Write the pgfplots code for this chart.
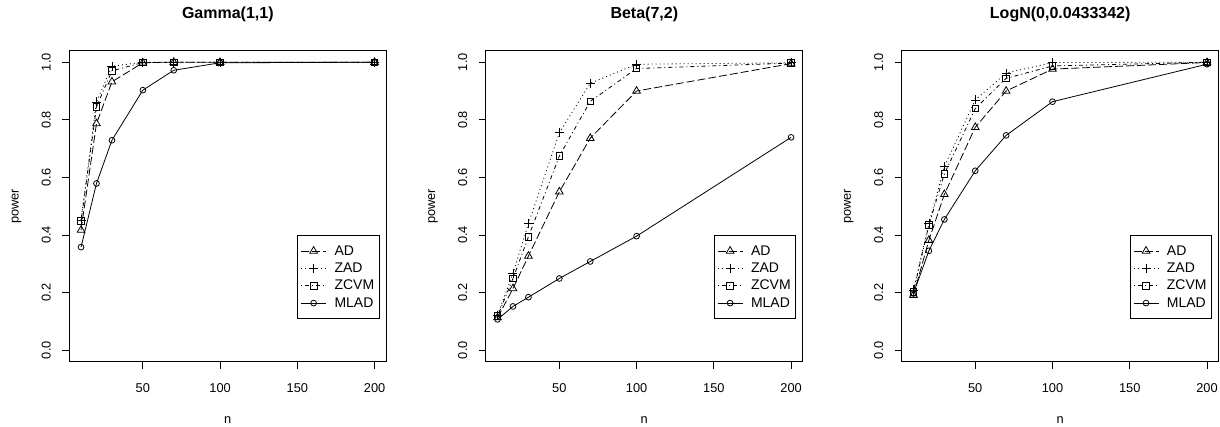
\documentclass[border=0pt]{standalone}
\usepackage{fontspec}
\setmainfont{Liberation Sans}
\usepackage{pgfplots}
\usepackage{pgfplotstable}
\pgfplotsset{compat=1.18}

% power by sample size n, one table for each panel
\pgfplotstableread{
n   AD    ZAD   ZCVM  MLAD
10  0.417 0.452 0.448 0.358
20  0.787 0.862 0.845 0.579
30  0.932 0.986 0.970 0.729
50  0.998 1.000 0.999 0.903
70  1.000 1.000 1.000 0.972
100 1.000 1.000 1.000 0.998
200 1.000 1.000 1.000 1.000
}\gammatab
\pgfplotstableread{
n   AD    ZAD   ZCVM  MLAD
10  0.113 0.122 0.118 0.107
20  0.214 0.267 0.249 0.152
30  0.327 0.440 0.394 0.184
50  0.550 0.755 0.674 0.249
70  0.736 0.927 0.864 0.308
100 0.900 0.993 0.978 0.396
200 0.995 0.998 0.997 0.739
}\betatab
\pgfplotstableread{
n   AD    ZAD   ZCVM  MLAD
10  0.191 0.209 0.203 0.197
20  0.382 0.440 0.435 0.345
30  0.541 0.637 0.612 0.454
50  0.774 0.869 0.839 0.623
70  0.900 0.962 0.944 0.746
100 0.976 0.999 0.987 0.863
200 0.999 1.000 1.000 0.993
}\lognormtab

\pgfplotsset{
  rplot/.style={
    scale only axis, width=317pt, height=311pt,
    xmin=2.4, xmax=207.6, ymin=-0.04, ymax=1.04,
    xtick={50,100,150,200}, ytick={0,0.2,0.4,0.6,0.8,1},
    xtick pos=bottom, ytick pos=left,
    tick align=outside, major tick length=7pt,
    axis line style={line width=0.8pt},
    every tick/.style={black, line width=0.8pt},
    /pgf/number format/assume math mode=true,
    yticklabel style={/pgf/number format/fixed, /pgf/number format/fixed zerofill,
      /pgf/number format/precision=1, rotate=90, anchor=base,
      font=\fontsize{12.8}{15}\selectfont},
    xticklabel style={anchor=base, font=\fontsize{12.8}{15}\selectfont},
    xticklabel shift=23.5pt, yticklabel shift=11.6pt,
    title style={at={(0.5,1)}, anchor=base, yshift=26pt, font=\bfseries\fontsize{16}{19}\selectfont},
    xlabel={n}, ylabel={power},
    every axis x label/.style={at={(axis description cs:0.5,-0.198)}, anchor=base,
      font=\fontsize{12.8}{15}\selectfont},
    every axis y label/.style={at={(axis description cs:-0.16,0.5)}, rotate=90, anchor=base,
      font=\fontsize{12.8}{15}\selectfont},
    legend style={at={(axis cs:150,0.4)}, anchor=north west, draw=black, line width=0.8pt,
      font=\fontsize{14}{16}\selectfont, row sep=2.2pt, column sep=6pt,
      inner xsep=3pt, inner ysep=8pt,
      nodes={inner xsep=2pt, inner ysep=2pt}},
    legend cell align=left,
    legend image code/.code={
      \draw[mark repeat=2, mark phase=2] plot coordinates {(0pt,0pt) (12.5pt,0pt) (25pt,0pt)};},
  },
  ad/.style={black, line width=0.8pt, dash pattern=on 8pt off 3pt,
    mark=triangle, mark size=4.4pt, mark options={solid, fill=white}},
  zad/.style={black, line width=0.8pt, dash pattern=on 1pt off 3pt,
    mark=+, mark size=4.5pt, mark options={solid}},
  zcvm/.style={black, line width=0.8pt, dash pattern=on 1pt off 3pt on 4pt off 3pt,
    mark=square, mark size=3.3pt, mark options={solid, fill=white}},
  mlad/.style={black, line width=0.8pt, solid,
    mark=o, mark size=2.9pt, mark options={solid, fill=white}},
}

\begin{document}
\begin{tikzpicture}
\useasboundingbox (0,0) rectangle (1220pt,427pt);

\begin{axis}[rplot, at={(69.3pt,65.3pt)}, title={Gamma(1,1)}]
  \addplot[ad]   table[x=n, y=AD]   {\gammatab};
  \addplot[zad]  table[x=n, y=ZAD]  {\gammatab};
  \addplot[zcvm] table[x=n, y=ZCVM] {\gammatab};
  \addplot[mlad] table[x=n, y=MLAD] {\gammatab};
  \legend{AD,ZAD,ZCVM,MLAD}
\end{axis}

\begin{axis}[rplot, at={(485.8pt,65.3pt)}, title={Beta(7,2)}]
  \addplot[ad]   table[x=n, y=AD]   {\betatab};
  \addplot[zad]  table[x=n, y=ZAD]  {\betatab};
  \addplot[zcvm] table[x=n, y=ZCVM] {\betatab};
  \addplot[mlad] table[x=n, y=MLAD] {\betatab};
  \legend{AD,ZAD,ZCVM,MLAD}
\end{axis}

\begin{axis}[rplot, at={(901.7pt,65.3pt)}, title={LogN(0,0.0433342)}]
  \addplot[ad]   table[x=n, y=AD]   {\lognormtab};
  \addplot[zad]  table[x=n, y=ZAD]  {\lognormtab};
  \addplot[zcvm] table[x=n, y=ZCVM] {\lognormtab};
  \addplot[mlad] table[x=n, y=MLAD] {\lognormtab};
  \legend{AD,ZAD,ZCVM,MLAD}
\end{axis}
\end{tikzpicture}
\end{document}
